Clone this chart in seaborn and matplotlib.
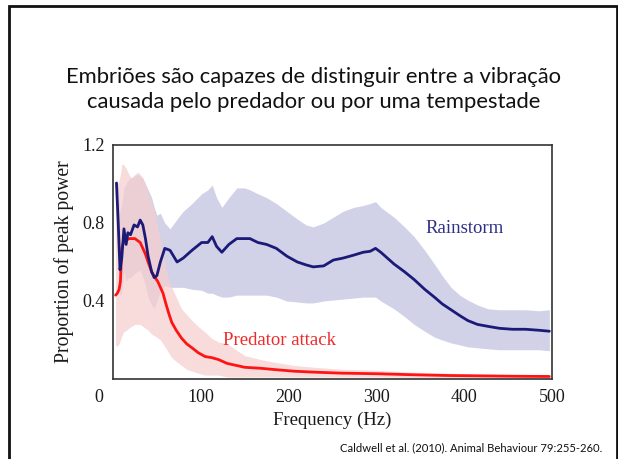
import numpy as np
import pandas as pd
import matplotlib
matplotlib.use("Agg")
import matplotlib.pyplot as plt
import matplotlib.transforms as mtransforms
from matplotlib.patches import Rectangle
import seaborn as sns

# ---------------- data ----------------
rain_freq = [4, 6, 8, 10, 12.5, 15, 17, 20, 24, 28,
             31, 34, 37, 40, 44, 47, 50, 54, 59, 65,
             73, 80, 90, 101, 108, 113, 118, 124, 132, 141,
             150, 156, 165, 175, 186, 198, 210, 220, 228, 240,
             251, 262, 274, 285, 293, 299, 305, 320, 332, 343,
             355, 366, 375, 385, 395, 404, 415, 427, 440, 455,
             470, 485, 497]
rain_mean = [1.005, 0.80, 0.56, 0.62, 0.77, 0.69, 0.75, 0.74, 0.79, 0.78,
             0.815, 0.79, 0.72, 0.63, 0.55, 0.52, 0.53, 0.60, 0.67, 0.66,
             0.60, 0.62, 0.66, 0.70, 0.70, 0.73, 0.68, 0.65, 0.69, 0.72,
             0.72, 0.72, 0.70, 0.69, 0.67, 0.63, 0.60, 0.585, 0.575, 0.58,
             0.61, 0.62, 0.635, 0.65, 0.655, 0.67, 0.65, 0.59, 0.55, 0.51,
             0.46, 0.42, 0.385, 0.355, 0.325, 0.30, 0.28, 0.27, 0.26, 0.255,
             0.255, 0.25, 0.245]
rain_hi = [1.03, 0.98, 0.85, 0.90, 0.98, 1.00, 1.02, 1.03, 1.04, 1.05,
           1.04, 1.03, 1.00, 0.97, 0.93, 0.88, 0.84, 0.85, 0.80, 0.77,
           0.82, 0.86, 0.90, 0.95, 0.97, 0.995, 0.93, 0.88, 0.93, 0.98,
           0.98, 0.97, 0.95, 0.93, 0.90, 0.86, 0.82, 0.79, 0.78, 0.80,
           0.83, 0.86, 0.88, 0.89, 0.90, 0.91, 0.88, 0.83, 0.78, 0.73,
           0.66, 0.59, 0.53, 0.47, 0.43, 0.405, 0.38, 0.36, 0.355, 0.355,
           0.355, 0.35, 0.355]
rain_lo = [0.85, 0.60, 0.42, 0.45, 0.55, 0.50, 0.52, 0.52, 0.54, 0.55,
           0.56, 0.52, 0.48, 0.42, 0.38, 0.36, 0.40, 0.45, 0.48, 0.47,
           0.47, 0.47, 0.46, 0.455, 0.44, 0.44, 0.43, 0.42, 0.42, 0.43,
           0.43, 0.43, 0.43, 0.43, 0.42, 0.40, 0.395, 0.39, 0.39, 0.40,
           0.405, 0.41, 0.415, 0.42, 0.42, 0.42, 0.40, 0.36, 0.32, 0.28,
           0.245, 0.215, 0.20, 0.185, 0.175, 0.165, 0.16, 0.155, 0.15, 0.15,
           0.15, 0.15, 0.145]

pred_freq = [3, 5, 7, 8.5, 10, 12, 15, 18, 21, 25,
             28, 31, 34, 37, 40, 44, 48, 51, 54, 57,
             60, 64, 67, 72, 78, 84, 90, 97, 105, 112,
             120, 130, 140, 150, 168, 185, 206, 230, 260, 300,
             340, 380, 420, 460, 497]
pred_mean = [0.43, 0.44, 0.46, 0.50, 0.67, 0.70, 0.71, 0.72, 0.72, 0.72,
             0.71, 0.70, 0.67, 0.64, 0.60, 0.55, 0.52, 0.50, 0.47, 0.44,
             0.39, 0.33, 0.29, 0.25, 0.21, 0.18, 0.16, 0.135, 0.115, 0.11,
             0.10, 0.08, 0.07, 0.06, 0.055, 0.048, 0.04, 0.035, 0.03, 0.027,
             0.022, 0.018, 0.016, 0.014, 0.013]
pred_hi = [0.95, 1.00, 1.02, 1.05, 1.10, 1.10, 1.08, 1.05, 1.03, 1.05,
           1.06, 1.05, 1.03, 1.00, 0.95, 0.90, 0.85, 0.78, 0.72, 0.64,
           0.57, 0.50, 0.47, 0.42, 0.36, 0.33, 0.30, 0.27, 0.24, 0.21,
           0.19, 0.18, 0.15, 0.12, 0.10, 0.085, 0.07, 0.06, 0.05, 0.045,
           0.035, 0.03, 0.025, 0.022, 0.02]
pred_lo = [0.17, 0.17, 0.18, 0.20, 0.22, 0.24, 0.25, 0.26, 0.27, 0.28,
           0.28, 0.28, 0.27, 0.26, 0.25, 0.23, 0.22, 0.21, 0.20, 0.18,
           0.16, 0.13, 0.11, 0.09, 0.07, 0.05, 0.04, 0.03, 0.02, 0.02,
           0.02, 0.01, 0.01, 0.01, 0.01, 0.01, 0.01, 0.01, 0.01, 0.01,
           0.008, 0.006, 0.006, 0.005, 0.005]

x_ticks = [0, 100, 200, 300, 400, 500]
y_ticks = [0.4, 0.8, 1.2]
y_tick_labels = ["0.4", "0.8", "1.2"]

title = "Embriões são capazes de distinguir entre a vibração\ncausada pelo predador ou por uma tempestade"
citation = "Caldwell et al. (2010). Animal Behaviour 79:255-260."

# ---------------- styling ----------------
sns.set_theme(style="white")
plt.rcParams["font.family"] = ["Liberation Serif", "DejaVu Serif"]

NAVY = "#1c1a78"
RED = "#ff1414"
NAVY_BAND = "#c9cae3"
RED_BAND = "#f6cfd0"

fig = plt.figure(figsize=(6.18, 4.59), dpi=100)
fig.patch.set_facecolor("white")
ax = fig.add_axes([0.1828, 0.1743, 0.7104, 0.5098])
ax.set_facecolor("white")

df_rain = pd.DataFrame({"freq": rain_freq, "power": rain_mean})
df_pred = pd.DataFrame({"freq": pred_freq, "power": pred_mean})

ax.fill_between(rain_freq, rain_lo, rain_hi, color=NAVY_BAND, alpha=0.85,
                linewidth=0, zorder=1)
ax.fill_between(pred_freq, pred_lo, pred_hi, color=RED_BAND, alpha=0.75,
                linewidth=0, zorder=2)
sns.lineplot(data=df_pred, x="freq", y="power", color=RED, linewidth=2.0,
             ax=ax, zorder=3)
sns.lineplot(data=df_rain, x="freq", y="power", color=NAVY, linewidth=2.0,
             ax=ax, zorder=4)

ax.set_xlim(0, 500)
ax.set_ylim(0, 1.2)
ax.set_xticks(x_ticks)
ax.set_xticklabels([str(v) for v in x_ticks])
ax.set_yticks(y_ticks)
ax.set_yticklabels(y_tick_labels)
ax.tick_params(direction="in", length=7, width=1.0, colors="#333333",
               labelcolor="#1a1a1a", labelsize=13, pad=6)
ax.tick_params(axis="x", pad=7)
for s in ax.spines.values():
    s.set_color("#333333")
    s.set_linewidth(1.2)

# shift the "0" label to the left as in the reference
off = mtransforms.ScaledTranslation(-10 / 72, 0, fig.dpi_scale_trans)
lbl0 = ax.get_xticklabels()[0]
lbl0.set_transform(lbl0.get_transform() + off)

ax.set_xlabel("Frequency (Hz)", fontsize=13.5, color="#1a1a1a", labelpad=4)
ax.set_ylabel("Proportion of peak power", fontsize=14.2, color="#1a1a1a",
              labelpad=6)

ax.text(400, 0.77, "Rainstorm", color="#2f2f88", fontsize=13.5,
        ha="center", va="center")
ax.text(190, 0.195, "Predator attack", color="#ee2a2a", fontsize=13.5,
        ha="center", va="center")

# slide title and citation
fig.text(0.507, 0.805, title, ha="center", va="center", fontsize=15.8,
         family=["Lato", "DejaVu Sans"], color="#111111", linespacing=1.3)
fig.text(0.975, 0.024, citation, ha="right", va="center", fontsize=8.1,
         family=["Lato", "DejaVu Sans"], color="#111111")

# slide border
fig.patches.append(Rectangle((9 / 618, -0.1), (617 - 9) / 618, 1.1 - 6.5 / 459,
                             transform=fig.transFigure, fill=False,
                             edgecolor="#111111", linewidth=2.0))

fig.savefig("out.png", dpi=100, facecolor="white")
